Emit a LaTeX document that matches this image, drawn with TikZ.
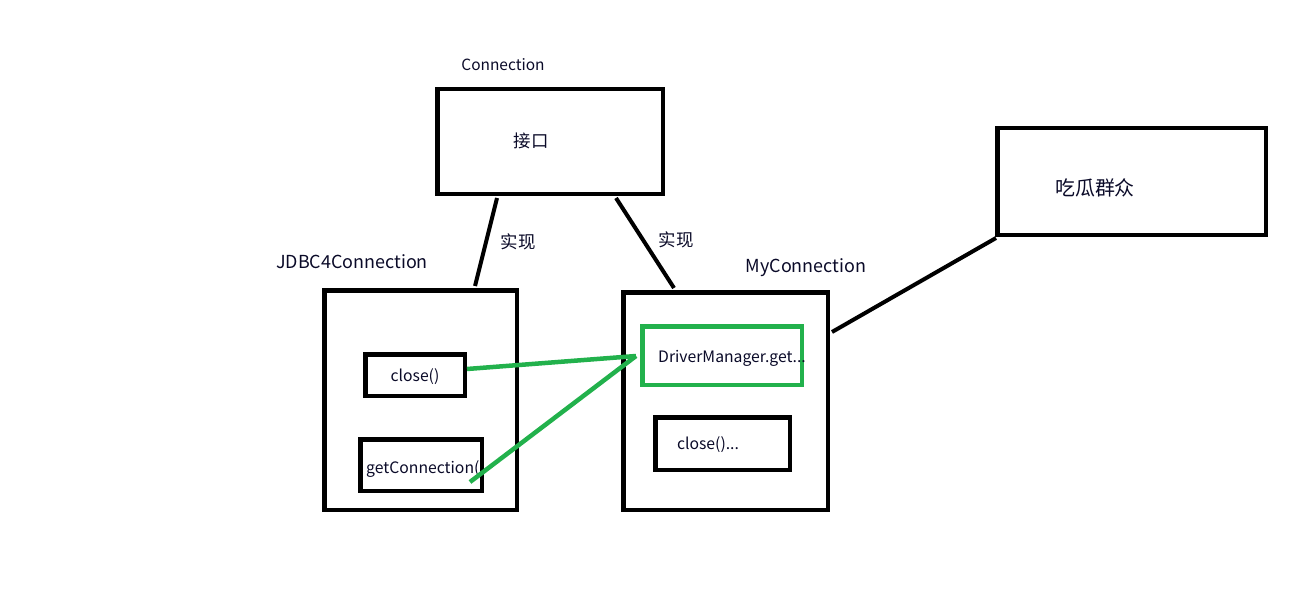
\documentclass[tikz,border=0pt]{standalone}
\usepackage{fontspec}
\setmainfont{Noto Sans CJK SC}
\definecolor{pgreen}{RGB}{34,177,76}
\definecolor{txt}{RGB}{10,10,40}
\begin{document}
\begin{tikzpicture}[x=1bp,y=-1bp,
  box/.style={draw=black,line width=4.5bp,inner sep=0pt,anchor=north west},
  gbox/.style={draw=pgreen,line width=4.5bp,inner sep=0pt,anchor=north west},
  wire/.style={draw=black,line width=4bp},
  gwire/.style={draw=pgreen,line width=4.5bp},
  lab/.style={text=txt,inner sep=0pt,font=\fontsize{18}{21}\selectfont},
  small/.style={text=txt,inner sep=0pt,font=\fontsize{15.5}{18}\selectfont},
  mid/.style={text=txt,inner sep=0pt,font=\fontsize{15.8}{18}\selectfont},
  cjk/.style={text=txt,inner sep=0pt,font=\fontsize{17.5}{20}\selectfont},
  big/.style={text=txt,inner sep=0pt,font=\fontsize{20}{23}\selectfont}]
\useasboundingbox (0,0) rectangle (1312,590);
% boxes (outer edges given; widths are border-to-border)
\node[box,minimum width=225.5bp,minimum height=104.5bp] (iface) at (435,87) {};
\node[box,minimum width=192.5bp,minimum height=219.5bp] (jdbc) at (322,288) {};
\node[box,minimum width=99.5bp,minimum height=41.5bp] (jclose) at (363,352) {};
\node[box,minimum width=121.5bp,minimum height=51.5bp] (jget) at (358,437) {};
\node[box,minimum width=204.5bp,minimum height=217.5bp] (myc) at (621,290) {};
\node[gbox,minimum width=159.5bp,minimum height=58.5bp] (dm) at (640,324) {};
\node[box,minimum width=134.5bp,minimum height=52.5bp] (mclose) at (653,415) {};
\node[box,minimum width=268.5bp,minimum height=106.5bp] (crowd) at (995,126) {};
% texts
\node[small] (tconn) at (503,65) {Connection};
\node[cjk] (tiface) at (531,141) {接口};
\node[lab] (tjdbc) at (352,262) {JDBC4Connection};
\node[lab] (tmyc) at (806,268) {MyConnection};
\node[mid] (tjclose) at (415,377) {close()};
\node[mid,anchor=west] (tjget) at (366,469) {getConnection(};
\node[mid] (tdm) at (732,358) {DriverManager.get...};
\node[mid] (tmclose) at (708,445) {close()...};
\node[big] (tcrowd) at (1095,188) {吃瓜群众};
\node[cjk] (impl1) at (518,242) {实现};
\node[cjk] (impl2) at (676,240) {实现};
% connectors
\coordinate (a1) at (497,198); \coordinate (a2) at (475,286);
\coordinate (b1) at (616,198); \coordinate (b2) at (674,288);
\coordinate (c1) at (832,332); \coordinate (c2) at (996,238);
\coordinate (g0) at (636,356); \coordinate (g1) at (467,369); \coordinate (g2) at (470,482);
\draw[wire] (a1) -- (a2);
\draw[wire] (b1) -- (b2);
\draw[wire] (c1) -- (c2);
\draw[gwire] (g1) -- (g0);
\draw[gwire] (g2) -- (g0);
\end{tikzpicture}
\end{document}
